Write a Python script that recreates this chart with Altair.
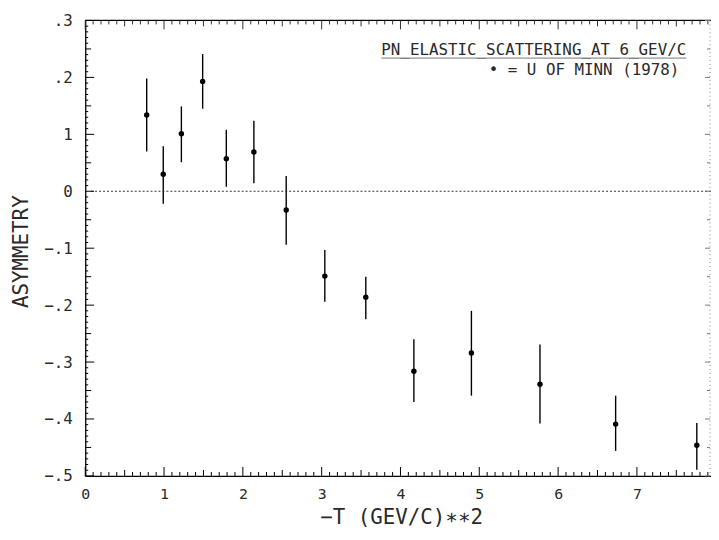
import altair as alt
import numpy as np
import pandas as pd

# ---- data ----
T = [0.78, 0.99, 1.22, 1.49, 1.79, 2.14, 2.55, 3.04, 3.56, 4.17, 4.90, 5.77, 6.73, 7.76]
A = [0.134, 0.030, 0.101, 0.193, 0.057, 0.069, -0.033, -0.149, -0.186, -0.316, -0.284, -0.339, -0.409, -0.446]
HI = [0.198, 0.079, 0.149, 0.241, 0.108, 0.124, 0.027, -0.103, -0.150, -0.260, -0.210, -0.269, -0.359, -0.407]
LO = [0.070, -0.022, 0.051, 0.145, 0.008, 0.014, -0.094, -0.194, -0.225, -0.370, -0.359, -0.408, -0.456, -0.489]

X_TICKS = [0, 1, 2, 3, 4, 5, 6, 7]
Y_TICKS = [0.3, 0.2, 0.1, 0.0, -0.1, -0.2, -0.3, -0.4, -0.5]
Y_LABELS = [".3", ".2", "1", "0", "\u2212.1", "\u2212.2", "\u2212.3", "\u2212.4", "\u2212.5"]
ZERO = [0.0]

TITLE_LINE1 = "PN_ELASTIC_SCATTERING_AT_6_GEV/C"
TITLE_LINE2 = "\u2022 = U OF MINN (1978)"
X_TITLE = "\u2212T  (GEV/C)\u2217\u22172"
Y_TITLE = "ASYMMETRY"

X_MAX = 7.94
W, H = 632, 460
FONT = "DejaVu Sans Mono"
INK = "#2a2a2a"

df = pd.DataFrame({"t": T, "a": A, "hi": HI, "lo": LO})

xscale = alt.Scale(domain=[0, X_MAX], nice=False, zero=False)
yscale = alt.Scale(domain=[-0.5, 0.3], nice=False, zero=False)

label_arr = "[" + ",".join("'" + s + "'" for s in Y_LABELS) + "]"

xaxis = alt.Axis(values=X_TICKS, ticks=False, domain=True, domainColor="black", domainWidth=1.3,
                 grid=False, labelFont=FONT, labelFontSize=15, labelColor=INK, labelPadding=11,
                 labelFlush=False, title=X_TITLE, titleFont=FONT, titleFontSize=21,
                 titleFontWeight="normal", titleColor=INK, titleX=319, titleY=42,
                 titleBaseline="middle", titleAlign="center")
yaxis = alt.Axis(values=Y_TICKS, ticks=False, domain=True, domainColor="black", domainWidth=1.3,
                 grid=False, labelFont=FONT, labelFontSize=16, labelColor=INK, labelPadding=13,
                 labelFlush=False,
                 labelExpr=label_arr + "[round((0.3 - datum.value) * 10)]",
                 title=Y_TITLE, titleFont=FONT, titleFontSize=21, titleFontWeight="normal",
                 titleColor=INK, titleX=-64, titleY=233, titleAngle=-90,
                 titleBaseline="middle", titleAlign="center")


def xt(field):
    return alt.X(field, type="quantitative", scale=xscale, axis=xaxis)


def yt(field):
    return alt.Y(field, type="quantitative", scale=yscale, axis=yaxis)


layers = []

# error bars
layers.append(alt.Chart(df).mark_rule(color="black", strokeWidth=1.4).encode(
    x=xt("t"), y=yt("lo"), y2="hi"))
# points
layers.append(alt.Chart(df).mark_circle(color="black", size=30, opacity=1).encode(
    x=xt("t"), y=yt("a")))

# zero dotted line
layers.append(alt.Chart(pd.DataFrame({"z": ZERO})).mark_rule(
    color="#333", strokeWidth=1, strokeDash=[2, 2]).encode(
    y=yt("z"), x=alt.value(6), x2=alt.value(W)))

# frame top and right
layers.append(alt.Chart(pd.DataFrame({"z": ZERO})).mark_rule(color="black", strokeWidth=1.2).encode(
    x=alt.value(0), x2=alt.value(W), y=alt.value(0)))
layers.append(alt.Chart(pd.DataFrame({"z": ZERO})).mark_rule(
    color="#888", strokeWidth=1, strokeDash=[1, 3]).encode(
    x=alt.value(W - 1), y=alt.value(0), y2=alt.value(H)))

# x ticks (bottom pointing up, top pointing down)
xs = np.round(np.arange(0, X_MAX, 0.1), 2)
x_major = [v for v in xs if abs(v - round(v)) < 1e-6]
x_half = [v for v in xs if abs(v * 2 - round(v * 2)) < 1e-6 and abs(v - round(v)) > 1e-6]
x_minor = [v for v in xs if abs(v * 2 - round(v * 2)) > 1e-6]
for vals, ln in [(x_major, 9), (x_half, 6), (x_minor, 4)]:
    d = pd.DataFrame({"v": vals})
    layers.append(alt.Chart(d).mark_rule(color="black", strokeWidth=1).encode(
        x=xt("v"), y=alt.value(H), y2=alt.value(H - ln)))
    layers.append(alt.Chart(d).mark_rule(color="#333", strokeWidth=1).encode(
        x=xt("v"), y=alt.value(0), y2=alt.value(ln)))

# y ticks (left pointing right, right pointing left)
ys = np.round(np.arange(-0.5, 0.3001, 0.01), 3)
y_major = [v for v in ys if abs(v * 10 - round(v * 10)) < 1e-6]
y_half = [v for v in ys if abs(v * 20 - round(v * 20)) < 1e-6 and abs(v * 10 - round(v * 10)) > 1e-6]
y_minor = [v for v in ys if abs(v * 20 - round(v * 20)) > 1e-6]
for vals, ln in [(y_major, 9), (y_half, 6), (y_minor, 3)]:
    d = pd.DataFrame({"v": vals})
    layers.append(alt.Chart(d).mark_rule(color="black", strokeWidth=1).encode(
        y=yt("v"), x=alt.value(0), x2=alt.value(ln)))
for vals, ln in [(y_major, 5), (y_half, 3)]:
    d = pd.DataFrame({"v": vals})
    layers.append(alt.Chart(d).mark_rule(color="#777", strokeWidth=1).encode(
        y=yt("v"), x=alt.value(W - 1), x2=alt.value(W - 1 - ln)))

# legend text
layers.append(alt.Chart(pd.DataFrame({"s": [TITLE_LINE1]})).mark_text(
    font=FONT, fontSize=16, color=INK, align="right", baseline="alphabetic").encode(
    text="s:N", x=alt.value(607), y=alt.value(35)))
layers.append(alt.Chart(pd.DataFrame({"z": ZERO})).mark_rule(color="#777", strokeWidth=1).encode(
    x=alt.value(299), x2=alt.value(607), y=alt.value(38)))
layers.append(alt.Chart(pd.DataFrame({"s": [TITLE_LINE2]})).mark_text(
    font=FONT, fontSize=16, color=INK, align="right", baseline="alphabetic").encode(
    text="s:N", x=alt.value(600), y=alt.value(55)))

chart = alt.layer(*layers).properties(
    width=W, height=H,
    autosize=alt.AutoSizeParams(type="none"),
    padding={"left": 78, "top": 10, "right": 0, "bottom": 50},
    background="white",
).configure_view(stroke=None)

chart.save("out.html", embed_options={"renderer": "svg", "actions": False})
